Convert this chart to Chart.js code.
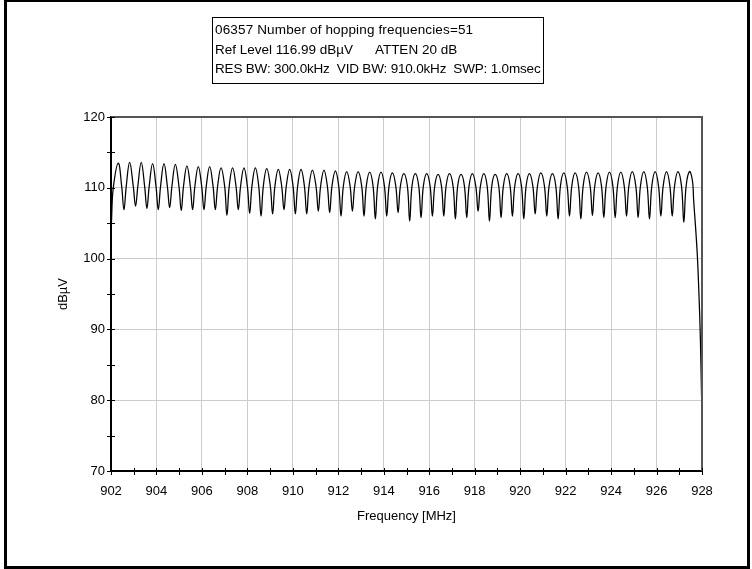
<!DOCTYPE html>
<html>
<head>
<meta charset="utf-8">
<script src="https://cdn.jsdelivr.net/npm/chart.js@4/dist/chart.umd.min.js"></script>
<style>
  html, body { margin: 0; padding: 0; background: #fff; }
  #wrap { position: relative; width: 752px; height: 569px; overflow: hidden; background: #fff; }
  #frame { position: absolute; left: 4px; top: -1px; width: 746px; height: 570px; border: 3px solid #000; box-sizing: border-box; pointer-events: none; }
  #info { position: absolute; left: 212px; top: 17px; width: 332px; height: 67px; border: 1px solid #000; box-sizing: border-box;
          font: 13.5px "Liberation Sans", Arial, sans-serif; color: #000; padding: 2px 0 0 2px; white-space: pre; }
  #info div { line-height: 19.5px; height: 19.5px; }
  #l1 { letter-spacing: 0.15px; }
  #l3 { letter-spacing: -0.18px; }
  canvas { position: absolute; left: 0; top: 0; }
</style>
</head>
<body>
<div id="wrap">
  <canvas id="c" width="752" height="569"></canvas>
  <div id="info"><div id="l1">06357 Number of hopping frequencies=51</div><div id="l2">Ref Level 116.99 dBµV      ATTEN 20 dB</div><div id="l3">RES BW: 300.0kHz  VID BW: 910.0kHz  SWP: 1.0msec</div></div>
  <div id="frame"></div>
</div>
<script>
// ---- data ----
const xTitle = "Frequency [MHz]";
const yTitle = "dBµV";

// hop channel centre frequencies (MHz) – the 51 humps
const channelMHz = [902.32,902.82,903.33,903.83,904.33,904.83,905.34,905.84,906.34,906.84,
  907.35,907.85,908.35,908.85,909.36,909.86,910.36,910.86,911.37,911.87,
  912.37,912.87,913.38,913.88,914.38,914.88,915.39,915.89,916.39,916.89,
  917.40,917.90,918.40,918.90,919.41,919.91,920.41,920.91,921.42,921.92,
  922.42,922.92,923.43,923.93,924.43,924.93,925.44,925.94,926.44,926.94,927.45];
// hump tops (dBµV)
const peakDb = [113.5,113.6,113.6,113.4,113.4,113.3,113.1,113.0,113.0,112.8,
  112.8,112.8,112.8,112.7,112.6,112.6,112.6,112.5,112.5,112.4,
  112.3,112.3,112.2,112.2,112.1,112.0,112.0,112.0,111.9,112.0,
  111.9,112.0,112.0,111.9,112.0,112.0,112.0,112.1,112.0,112.1,
  112.1,112.2,112.1,112.2,112.2,112.3,112.3,112.3,112.3,112.3,112.3];
// notches between channels
const dipMHz = [902.57,903.08,903.58,904.08,904.58,905.09,905.59,906.09,906.59,907.10,
  907.60,908.10,908.60,909.11,909.61,910.11,910.61,911.12,911.62,912.12,
  912.62,913.13,913.63,914.13,914.63,915.14,915.64,916.14,916.64,917.15,
  917.65,918.15,918.65,919.16,919.66,920.16,920.66,921.17,921.67,922.17,
  922.67,923.18,923.68,924.18,924.68,925.19,925.69,926.19,926.69,927.20];
const dipDb = [106.9,107.4,107.1,106.9,107.2,106.8,106.9,106.9,106.9,106.1,
  106.9,106.4,106.0,106.3,106.9,106.3,106.3,106.7,106.5,106.0,
  106.7,106.0,105.6,106.0,106.5,105.3,105.8,106.0,106.0,105.6,
  105.8,106.7,105.3,105.8,106.0,105.6,106.3,106.0,105.6,106.0,
  105.6,106.1,105.8,105.8,106.0,105.8,105.6,106.0,106.0,105.1];
const shoulderDb = 110.2;        // level where each notch starts
const notchHalfWidthMHz = 0.1;   // half width of each notch at that level
// band edges
const startMHz = [902.00, 902.03, 902.10];
const startDb  = [102.7, 106.0, 110.0];
const endMHz = [927.58, 927.63, 927.78, 927.86, 927.93, 927.98];
const endDb  = [111.0, 108.4, 101.3, 95.5, 88.5, 80.6];

const xMin = 902, xMax = 928, xStep = 2, xMinor = 1;
const yMin = 70, yMax = 120, yStep = 10, yMinor = 5;

// ---- build trace ----
const trace = [];
startMHz.forEach((f, k) => trace.push({x: f, y: startDb[k]}));
channelMHz.forEach((f, i) => {
  trace.push({x: f, y: peakDb[i]});
  if (i < dipMHz.length) {
    trace.push({x: dipMHz[i] - notchHalfWidthMHz, y: shoulderDb});
    trace.push({x: dipMHz[i], y: dipDb[i]});
    trace.push({x: dipMHz[i] + notchHalfWidthMHz, y: shoulderDb});
  }
});
endMHz.forEach((f, k) => trace.push({x: f, y: endDb[k]}));

const axisFont = {family: "'Liberation Sans', Arial, sans-serif", size: 13};

const frameAndTicks = {
  id: 'frameAndTicks',
  afterDatasetsDraw(chart) {
    const {ctx, chartArea: a, scales: {x, y}} = chart;
    ctx.save();
    // top and right border of plot
    ctx.strokeStyle = '#555';
    ctx.lineWidth = 2;
    ctx.beginPath();
    ctx.moveTo(a.left, a.top); ctx.lineTo(a.right, a.top); ctx.lineTo(a.right, a.bottom);
    ctx.stroke();
    // tick marks crossing the axes
    ctx.strokeStyle = '#000';
    ctx.lineWidth = 1;
    ctx.beginPath();
    for (let v = yMin; v <= yMax; v += yMinor) {
      const py = Math.round(y.getPixelForValue(v)) + 0.5;
      ctx.moveTo(a.left - 4, py); ctx.lineTo(a.left + 4, py);
    }
    for (let v = xMin; v <= xMax; v += xMinor) {
      const px = Math.round(x.getPixelForValue(v)) + 0.5;
      ctx.moveTo(px, a.bottom - 3); ctx.lineTo(px, a.bottom + 4);
    }
    ctx.stroke();
    ctx.restore();
  }
};

new Chart(document.getElementById('c'), {
  type: 'line',
  data: {
    datasets: [{
      data: trace,
      borderColor: '#000',
      borderWidth: 1.25,
      pointRadius: 0,
      tension: 0.4,
      fill: false
    }]
  },
  options: {
    responsive: false,
    animation: false,
    devicePixelRatio: 1,
    layout: {padding: {left: 0, top: 117, right: 50, bottom: 0}},
    plugins: {legend: {display: false}, tooltip: {enabled: false}},
    scales: {
      x: {
        type: 'linear', min: xMin, max: xMax,
        afterFit(s) { s.height = 98; },
        ticks: {stepSize: xStep, color: '#000', font: axisFont, padding: 13, maxRotation: 0,
                callback: v => String(v)},
        grid: {color: '#cccccc', lineWidth: 1, drawTicks: false},
        border: {color: '#000', width: 2},
        title: {display: true, text: xTitle, color: '#000', font: axisFont, padding: {top: 0, bottom: 44.5}}
      },
      y: {
        type: 'linear', min: yMin, max: yMax,
        afterFit(s) { s.width = 111; },
        ticks: {stepSize: yStep, color: '#000', font: axisFont, padding: 6},
        grid: {color: '#cccccc', lineWidth: 1, drawTicks: false},
        border: {color: '#000', width: 2},
        title: {display: true, text: yTitle, color: '#000', font: axisFont, padding: {top: 55.2, bottom: 0}}
      }
    }
  },
  plugins: [frameAndTicks]
});
</script>
</body>
</html>
